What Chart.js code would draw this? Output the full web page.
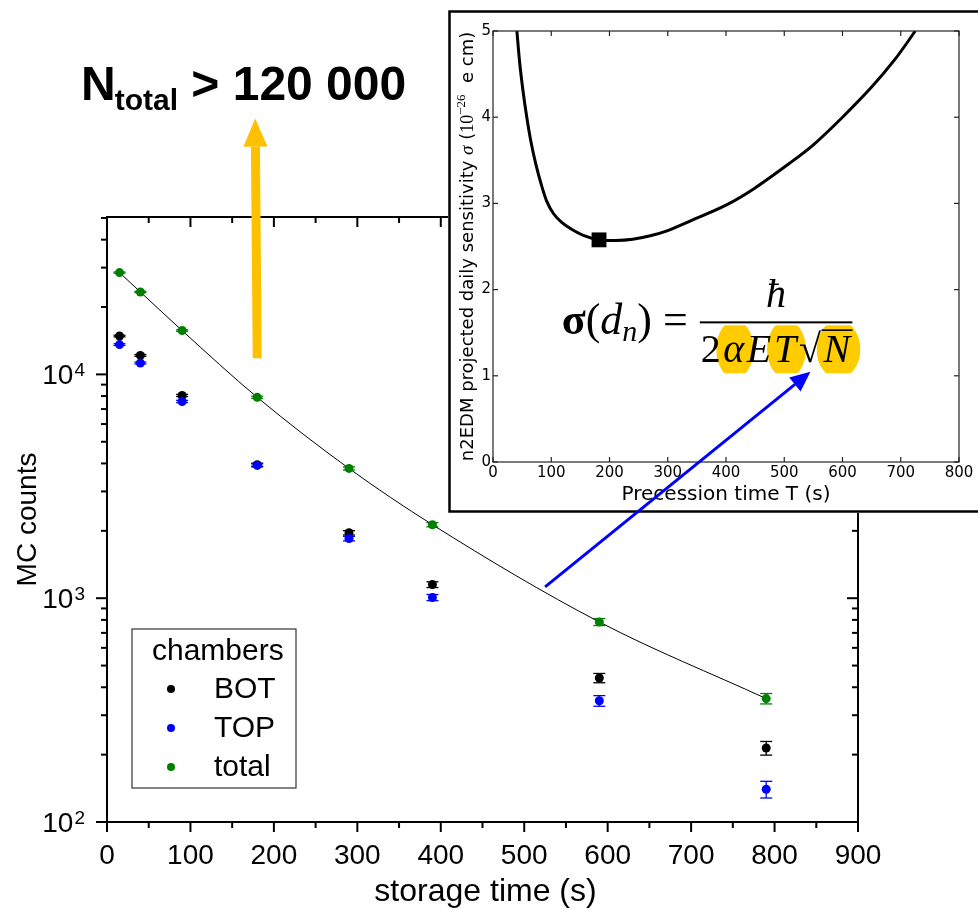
<!DOCTYPE html>
<html>
<head>
<meta charset="utf-8">
<script src="https://cdn.jsdelivr.net/npm/chart.js@4.4.0/dist/chart.umd.min.js"></script>
<style>
html, body { margin: 0; padding: 0; overflow: hidden; background: #fff; }
#wrap { position: relative; width: 978px; height: 910px; }
#mainChart { position: absolute; left: 0; top: 0; }
#insetChart { position: absolute; left: 448px; top: 10px; background: #fff; }
#overlay { position: absolute; left: 0; top: 0; pointer-events: none; }
</style>
</head>
<body>
<div id="wrap">
  <canvas id="mainChart" width="978" height="910"></canvas>
  <canvas id="insetChart" width="530" height="503"></canvas>
  <canvas id="overlay" width="978" height="910"></canvas>
</div>
<script>
// main plot: MC counts vs storage time
const storageTimes = [15, 40, 90, 180, 290, 390, 590, 790];
const botCounts   = [14840, 12160, 8050, 3950, 1960, 1150, 440, 214];
const botErrors   = [120, 110, 90, 63, 44, 34, 21, 15];
const topCounts   = [13590, 11240, 7570, 3920, 1846, 1007, 348, 140];
const topErrors   = [117, 106, 87, 63, 43, 32, 19, 12];
const totalCounts = [28500, 23350, 15700, 7900, 3800, 2130, 783, 356];
const totalErrors = [170, 153, 125, 89, 62, 46, 28, 19];
const xTickValues = [0, 100, 200, 300, 400, 500, 600, 700, 800, 900];
const yDecades = [100, 1000, 10000];
const legendNames = ['BOT', 'TOP', 'total'];
const legendColors = ['#000000', '#0000ff', '#008000'];

// inset: projected sensitivity vs precession time
const precessionTimes = [41, 46, 52, 58, 65, 73, 82, 92, 104, 118, 135, 155, 182, 210, 240, 270, 300, 340, 400, 450, 510, 550, 600, 650, 690, 725];
const sensitivity     = [5.0, 4.62, 4.28, 4.0, 3.72, 3.47, 3.24, 3.03, 2.88, 2.78, 2.70, 2.63, 2.577, 2.57, 2.585, 2.625, 2.685, 2.80, 2.98, 3.18, 3.47, 3.68, 4.0, 4.35, 4.67, 5.0];
const optimumTime = [182];
const optimumSigma = [2.577];
const insetXTicks = [0, 100, 200, 300, 400, 500, 600, 700, 800];
const insetYTicks = [0, 1, 2, 3, 4, 5];

const SANS = '"Liberation Sans", Arial, sans-serif';
const DJV = '"DejaVu Sans", sans-serif';
const SERIF = '"Liberation Serif", "DejaVu Serif", serif';

Chart.defaults.font.family = SANS;

function line(ctx, x1, y1, x2, y2) {
    ctx.beginPath();
    ctx.moveTo(x1, y1);
    ctx.lineTo(x2, y2);
    ctx.stroke();
}

function arrow(ctx, x1, y1, x2, y2, width, headLen, headHalf, color) {
    const a = Math.atan2(y2 - y1, x2 - x1);
    const bx = x2 - headLen * Math.cos(a), by = y2 - headLen * Math.sin(a);
    ctx.save();
    ctx.strokeStyle = color;
    ctx.fillStyle = color;
    ctx.lineWidth = width;
    line(ctx, x1, y1, bx, by);
    ctx.beginPath();
    ctx.moveTo(x2, y2);
    ctx.lineTo(bx + headHalf * Math.sin(a), by - headHalf * Math.cos(a));
    ctx.lineTo(bx - headHalf * Math.sin(a), by + headHalf * Math.cos(a));
    ctx.closePath();
    ctx.fill();
    ctx.restore();
}

const errorSets = [
    { values: botCounts, errors: botErrors, color: '#000000' },
    { values: topCounts, errors: topErrors, color: '#0000ff' },
    { values: totalCounts, errors: totalErrors, color: '#008000' }
];

const mainDecor = {
    id: 'mainDecor',
    beforeDatasetsDraw(chart) {
        const ctx = chart.ctx, xs = chart.scales.x, ys = chart.scales.y;
        ctx.save();
        ctx.lineWidth = 1.3;
        errorSets.forEach(s => {
            ctx.strokeStyle = s.color;
            storageTimes.forEach((t, i) => {
                const x = xs.getPixelForValue(t);
                const y1 = ys.getPixelForValue(s.values[i] + s.errors[i]);
                const y2 = ys.getPixelForValue(s.values[i] - s.errors[i]);
                line(ctx, x, y1, x, y2);
                line(ctx, x - 6, y1, x + 6, y1);
                line(ctx, x - 6, y2, x + 6, y2);
            });
        });
        ctx.restore();
    },
    afterDraw(chart) {
        const ctx = chart.ctx, ca = chart.chartArea;
        const xs = chart.scales.x, ys = chart.scales.y;
        ctx.save();
        // frame
        ctx.strokeStyle = '#000';
        ctx.lineWidth = 2;
        ctx.strokeRect(ca.left, ca.top, ca.right - ca.left, ca.bottom - ca.top);
        // x ticks: outward at bottom, inward at top
        for (let v = 0; v <= 900; v += 50) {
            const x = xs.getPixelForValue(v);
            const len = v % 100 === 0 ? 10 : 6;
            line(ctx, x, ca.bottom, x, ca.bottom + len);
            line(ctx, x, ca.top, x, ca.top + len);
        }
        // y ticks: outward on the left, inward on the right
        const yMax = ys.max;
        yDecades.forEach(d => {
            for (let k = 1; k <= 9; k++) {
                const v = d * k;
                if (v > yMax) break;
                const y = ys.getPixelForValue(v);
                const len = k === 1 ? 11 : 6;
                line(ctx, ca.left, y, ca.left - len, y);
                line(ctx, ca.right, y, ca.right - len, y);
            }
        });
        // tick labels
        ctx.fillStyle = '#000';
        ctx.font = '28px ' + SANS;
        ctx.textAlign = 'center';
        ctx.textBaseline = 'middle';
        xTickValues.forEach(v => ctx.fillText(String(v), xs.getPixelForValue(v), ca.bottom + 34));
        yDecades.forEach(d => {
            const y = ys.getPixelForValue(d);
            const exp = String(Math.round(Math.log10(d)));
            ctx.textBaseline = 'alphabetic';
            ctx.textAlign = 'right';
            ctx.font = '19px ' + SANS;
            ctx.fillText(exp, ca.left - 22, y + 2);
            const ew = ctx.measureText(exp).width;
            ctx.font = '28px ' + SANS;
            ctx.fillText('10', ca.left - 23 - ew, y + 10);
        });
        // axis titles
        ctx.textAlign = 'center';
        ctx.textBaseline = 'middle';
        ctx.font = '32px ' + SANS;
        ctx.fillText('storage time (s)', (ca.left + ca.right) / 2 + 3, 892);
        ctx.font = '28px ' + SANS;
        ctx.save();
        ctx.translate(28, (ca.top + ca.bottom) / 2);
        ctx.rotate(-Math.PI / 2);
        ctx.fillText('MC counts', 0, 0);
        ctx.restore();
        // legend
        ctx.fillStyle = '#fff';
        ctx.fillRect(132, 629, 164, 159);
        ctx.strokeStyle = '#333';
        ctx.lineWidth = 1.2;
        ctx.strokeRect(132, 629, 164, 159);
        ctx.fillStyle = '#000';
        ctx.font = '30px ' + SANS;
        ctx.textAlign = 'left';
        ctx.fillText('chambers', 152, 652);
        legendNames.forEach((n, i) => {
            const y = 689 + i * 39;
            ctx.fillStyle = legendColors[i];
            ctx.beginPath();
            ctx.arc(171, y, 4, 0, Math.PI * 2);
            ctx.fill();
            ctx.fillStyle = '#000';
            ctx.fillText(n, 214, y + 1);
        });
        // N_total annotation
        ctx.textAlign = 'left';
        ctx.textBaseline = 'alphabetic';
        ctx.font = 'bold 48px ' + SANS;
        ctx.fillText('N', 81, 100);
        let tx = 81 + ctx.measureText('N').width - 1;
        ctx.font = 'bold 30px ' + SANS;
        ctx.fillText('total', tx, 110);
        tx += ctx.measureText('total').width;
        ctx.font = 'bold 48px ' + SANS;
        ctx.fillText(' > 120 000', tx, 100);
        // orange arrow, from the 180 s point upward
        const ax = xs.getPixelForValue(180);
        arrow(ctx, ax, ys.getPixelForValue(11800), ax - 2, ys.getPixelForValue(139000), 9, 28, 12, '#ffc000');
        ctx.restore();
    }
};

const mainChart = new Chart(document.getElementById('mainChart'), {
    type: 'line',
    data: {
        datasets: [
            {
                label: 'fit',
                data: storageTimes.map((t, i) => ({ x: t, y: totalCounts[i] })),
                borderColor: '#000',
                borderWidth: 1,
                pointRadius: 0,
                cubicInterpolationMode: 'monotone',
                order: 3
            },
            {
                label: 'BOT',
                data: storageTimes.map((t, i) => ({ x: t, y: botCounts[i] })),
                showLine: false,
                pointRadius: 4.5,
                pointBackgroundColor: '#000',
                pointBorderWidth: 0,
                order: 2
            },
            {
                label: 'TOP',
                data: storageTimes.map((t, i) => ({ x: t, y: topCounts[i] })),
                showLine: false,
                pointRadius: 4.5,
                pointBackgroundColor: '#0000ff',
                pointBorderWidth: 0,
                order: 1
            },
            {
                label: 'total',
                data: storageTimes.map((t, i) => ({ x: t, y: totalCounts[i] })),
                showLine: false,
                pointRadius: 4.5,
                pointBackgroundColor: '#008000',
                pointBorderWidth: 0,
                order: 0
            }
        ]
    },
    options: {
        responsive: false,
        animation: false,
        layout: { padding: { left: 107, right: 120, top: 217, bottom: 88 } },
        scales: {
            x: { type: 'linear', min: 0, max: 900, display: false },
            y: { type: 'logarithmic', min: 100, max: 50500, display: false }
        },
        plugins: { legend: { display: false }, tooltip: { enabled: false } }
    },
    plugins: [mainDecor]
});

function drawFormula(ctx, xs, ys) {
    const fs = 40;
    const barY = ys.getPixelForValue(1.62);
    const barL = xs.getPixelForValue(355), barR = xs.getPixelForValue(617);
    const up = fs + 'px ' + SERIF, it = 'italic ' + fs + 'px ' + SERIF;
    ctx.save();
    ctx.fillStyle = '#000';
    ctx.textAlign = 'left';
    ctx.textBaseline = 'alphabetic';
    // left-hand side
    let x = xs.getPixelForValue(118);
    const base = barY + 12;
    const lhs = [
        { t: '\u03c3', f: 'bold 44px ' + SERIF, dy: 0 },
        { t: '(', f: '44px ' + SERIF, dy: 0 },
        { t: 'd', f: 'italic 44px ' + SERIF, dy: 0 },
        { t: 'n', f: 'italic 30px ' + SERIF, dy: 7 },
        { t: ')', f: '44px ' + SERIF, dy: 0 },
        { t: ' = ', f: '44px ' + SERIF, dy: 0 }
    ];
    lhs.forEach(p => {
        ctx.font = p.f;
        ctx.fillText(p.t, x, base + p.dy);
        x += ctx.measureText(p.t).width;
    });
    // fraction bar
    ctx.fillRect(barL, barY - 1, barR - barL, 2);
    // numerator
    ctx.font = it;
    ctx.textAlign = 'center';
    ctx.fillText('\u0127', (barL + barR) / 2, barY - 15);
    ctx.textAlign = 'left';
    // denominator
    const dBase = barY + 40;
    const parts = [
        { t: '2', f: up, hl: false },
        { t: '\u03b1', f: it, hl: true },
        { t: 'E', f: it, hl: false },
        { t: 'T', f: it, hl: true },
        { t: '\u221a', f: up, hl: false },
        { t: 'N', f: it, hl: true }
    ];
    let total = 0;
    parts.forEach(p => { ctx.font = p.f; p.w = ctx.measureText(p.t).width; total += p.w; });
    const scale = (barR - barL) / total;
    x = barL + 1;
    parts.forEach(p => { p.x = x; x += p.w * scale; });
    // yellow highlights behind alpha, T, N
    ctx.fillStyle = '#ffcc00';
    parts.filter(p => p.hl).forEach(p => {
        const cx = p.x + p.w * scale / 2, w = p.w * scale + 14;
        const top = barY + 3, bot = dBase + 11;
        ctx.save();
        ctx.beginPath();
        ctx.rect(cx - w / 2, top, w, bot - top);
        ctx.clip();
        ctx.beginPath();
        ctx.ellipse(cx, (top + bot) / 2, w / 2, (bot - top) * 0.6, 0, 0, Math.PI * 2);
        ctx.fill();
        ctx.restore();
    });
    ctx.fillStyle = '#000';
    parts.forEach(p => {
        ctx.font = p.f;
        ctx.fillText(p.t, p.x, dBase);
    });
    const sq = parts[4];
    ctx.fillRect(sq.x + sq.w * scale - 2, barY + 7, barR - (sq.x + sq.w * scale - 2), 1.6);
    ctx.restore();
}

const insetDecor = {
    id: 'insetDecor',
    beforeDraw(chart) {
        const ctx = chart.ctx;
        ctx.save();
        ctx.fillStyle = '#fff';
        ctx.fillRect(0, 0, chart.width, chart.height);
        ctx.restore();
    },
    afterDraw(chart) {
        const ctx = chart.ctx, ca = chart.chartArea;
        const xs = chart.scales.x, ys = chart.scales.y;
        ctx.save();
        // outer frame
        ctx.strokeStyle = '#000';
        ctx.lineWidth = 2.5;
        ctx.strokeRect(1.5, 1.5, chart.width + 10, chart.height - 3);
        // axes box
        ctx.strokeStyle = '#222';
        ctx.lineWidth = 1.2;
        ctx.strokeRect(ca.left, ca.top, ca.right - ca.left, ca.bottom - ca.top);
        insetXTicks.forEach(v => {
            const x = xs.getPixelForValue(v);
            line(ctx, x, ca.bottom, x, ca.bottom - 5);
            line(ctx, x, ca.top, x, ca.top + 5);
        });
        insetYTicks.forEach(v => {
            const y = ys.getPixelForValue(v);
            line(ctx, ca.left, y, ca.left + 5, y);
            line(ctx, ca.right, y, ca.right - 5, y);
        });
        ctx.fillStyle = '#000';
        ctx.font = '15px ' + DJV;
        ctx.textAlign = 'center';
        ctx.textBaseline = 'middle';
        insetXTicks.forEach(v => ctx.fillText(String(v), xs.getPixelForValue(v), ca.bottom + 11));
        ctx.textAlign = 'right';
        insetYTicks.forEach(v => ctx.fillText(String(v), ca.left - 2, ys.getPixelForValue(v)));
        // axis titles
        ctx.textAlign = 'center';
        ctx.font = '20px ' + DJV;
        ctx.fillText('Precession time T (s)', (ca.left + ca.right) / 2, ca.bottom + 33);
        const pieces = [
            { t: 'n2EDM projected daily sensitivity ', f: '18px ' + DJV, dy: 0 },
            { t: '\u03c3', f: 'italic 19px ' + SERIF, dy: 0 },
            { t: ' (', f: '18px ' + DJV, dy: 0 },
            { t: '10', f: '18px ' + SERIF, dy: 0 },
            { t: '\u221226', f: '13px ' + SERIF, dy: -8 },
            { t: '  e cm)', f: '18px ' + DJV, dy: 0 }
        ];
        let w = 0;
        pieces.forEach(p => { ctx.font = p.f; p.w = ctx.measureText(p.t).width; w += p.w; });
        ctx.save();
        ctx.translate(25, (ca.top + ca.bottom) / 2);
        ctx.rotate(-Math.PI / 2);
        ctx.textAlign = 'left';
        ctx.textBaseline = 'alphabetic';
        let px = -w / 2;
        pieces.forEach(p => { ctx.font = p.f; ctx.fillText(p.t, px, p.dy); px += p.w; });
        ctx.restore();
        drawFormula(ctx, xs, ys);
        ctx.restore();
    }
};

const insetChart = new Chart(document.getElementById('insetChart'), {
    type: 'line',
    data: {
        datasets: [
            {
                label: 'optimum',
                data: optimumTime.map((t, i) => ({ x: t, y: optimumSigma[i] })),
                showLine: false,
                pointStyle: 'rect',
                pointRadius: 10.5,
                pointBackgroundColor: '#000',
                pointBorderWidth: 0,
                order: 0
            },
            {
                label: 'sensitivity',
                data: precessionTimes.map((t, i) => ({ x: t, y: sensitivity[i] })),
                borderColor: '#000',
                borderWidth: 3,
                pointRadius: 0,
                tension: 0.3,
                order: 1
            }
        ]
    },
    options: {
        responsive: false,
        animation: false,
        layout: { padding: { left: 45, right: 19, top: 21, bottom: 51 } },
        scales: {
            x: { type: 'linear', min: 0, max: 800, display: false },
            y: { type: 'linear', min: 0, max: 5, display: false }
        },
        plugins: { legend: { display: false }, tooltip: { enabled: false } }
    },
    plugins: [insetDecor]
});

// blue arrow from the main plot into the inset formula
(function () {
    const ctx = document.getElementById('overlay').getContext('2d');
    const mx = mainChart.scales.x, my = mainChart.scales.y;
    const ix = insetChart.scales.x, iy = insetChart.scales.y;
    const x1 = mx.getPixelForValue(525), y1 = my.getPixelForValue(1124);
    const x2 = ix.getPixelForValue(545) + 448, y2 = iy.getPixelForValue(1.046) + 10;
    arrow(ctx, x1, y1, x2, y2, 3, 20, 9, '#0000ff');
})();
</script>
</body>
</html>
